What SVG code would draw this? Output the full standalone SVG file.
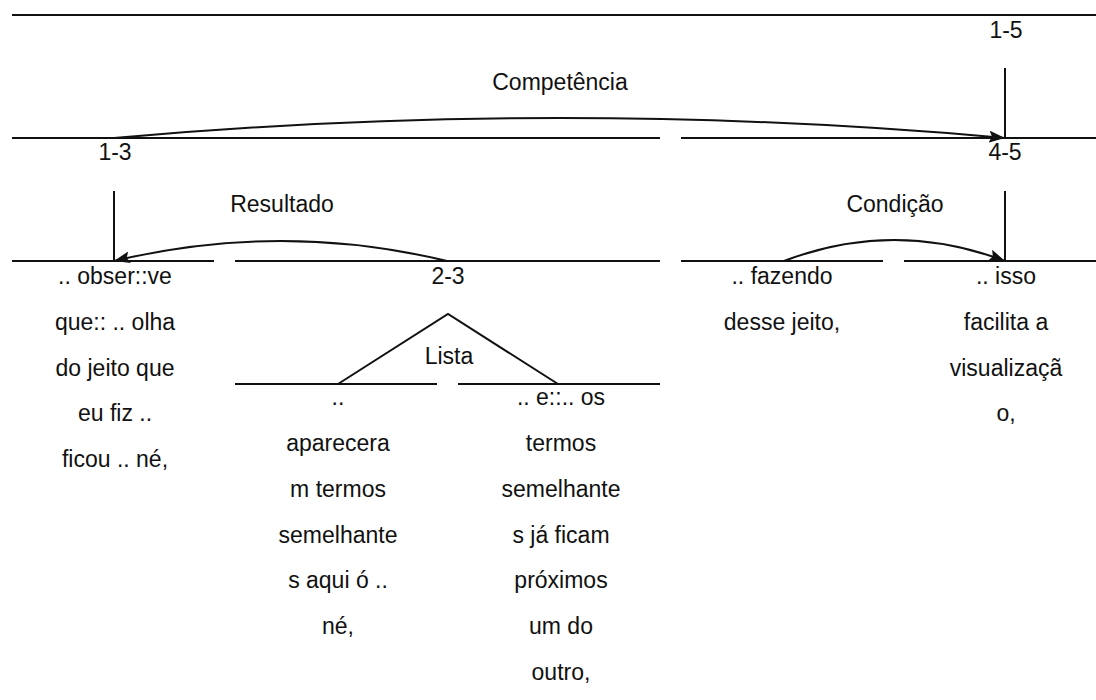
<svg xmlns="http://www.w3.org/2000/svg" width="1096" height="700" viewBox="0 0 1096 700">
<style>
  text { font-family: "Liberation Sans", Arial, sans-serif; font-size: 23px; fill: #111; text-anchor: middle; }
  .ln { stroke: #111; stroke-width: 2; fill: none; }
  .tri { stroke: #111; stroke-width: 2; fill: none; stroke-linejoin: miter; }
  .arc { stroke: #111; stroke-width: 2; fill: none; }
</style>
<defs>
  <marker id="ah" markerUnits="userSpaceOnUse" markerWidth="17" markerHeight="12" refX="16" refY="6" orient="auto">
    <path d="M0,0 L16,6 L0,12 L3,6 z" fill="#111"/>
  </marker>
</defs>
<rect width="1096" height="700" fill="#fff"/>

<g id="level1">
  <line class="ln" x1="12" y1="15" x2="1096" y2="15"/>
  <text x="1006" y="38">1-5</text>
  <line class="ln" x1="1005" y1="68" x2="1005" y2="138"/>
</g>

<g id="level2">
  <line class="ln" x1="12" y1="138" x2="660" y2="138"/>
  <line class="ln" x1="681" y1="138" x2="1096" y2="138"/>
  <text x="115" y="160">1-3</text>
  <text x="1005" y="160">4-5</text>
  <line class="ln" x1="114" y1="191" x2="114" y2="261"/>
  <line class="ln" x1="1005" y1="191" x2="1005" y2="261"/>
</g>

<g id="level3">
  <line class="ln" x1="12" y1="261" x2="214" y2="261"/>
  <line class="ln" x1="235" y1="261" x2="660" y2="261"/>
  <line class="ln" x1="681" y1="261" x2="883" y2="261"/>
  <line class="ln" x1="904" y1="261" x2="1096" y2="261"/>
</g>

<g id="node-observe">
  <text x="115" y="284">.. obser::ve</text>
  <text x="115" y="330">que:: .. olha</text>
  <text x="115" y="376">do jeito que</text>
  <text x="115" y="421">eu fiz ..</text>
  <text x="115" y="467">ficou .. né,</text>
</g>

<g id="node-2-3">
  <text x="448" y="284">2-3</text>
  <polyline class="tri" points="338,384 448,314 558,384"/>
  <text x="449" y="364">Lista</text>
  <line class="ln" x1="235" y1="384" x2="437" y2="384"/>
  <line class="ln" x1="458" y1="384" x2="660" y2="384"/>
</g>

<g id="node-aparecera">
  <text x="338" y="405">..</text>
  <text x="338" y="451">aparecera</text>
  <text x="338" y="497">m termos</text>
  <text x="338" y="543">semelhante</text>
  <text x="338" y="588">s aqui ó ..</text>
  <text x="338" y="634">né,</text>
</g>

<g id="node-termos">
  <text x="561" y="405">.. e::.. os</text>
  <text x="561" y="451">termos</text>
  <text x="561" y="497">semelhante</text>
  <text x="561" y="543">s já ficam</text>
  <text x="561" y="588">próximos</text>
  <text x="561" y="634">um do</text>
  <text x="561" y="680">outro,</text>
</g>

<g id="node-fazendo">
  <text x="782" y="284">.. fazendo</text>
  <text x="782" y="330">desse jeito,</text>
</g>

<g id="node-isso">
  <text x="1006" y="284">.. isso</text>
  <text x="1006" y="330">facilita a</text>
  <text x="1006" y="376">visualizaçã</text>
  <text x="1006" y="421">o,</text>
</g>

<g id="connectors">
  <path class="arc" d="M114,138 Q560,98 1005,138" marker-end="url(#ah)"/>
  <text x="560" y="90">Competência</text>
  <path class="arc" d="M447,261 Q281,221 114,261" marker-end="url(#ah)"/>
  <text x="282" y="212">Resultado</text>
  <path class="arc" d="M784,261 Q894,219 1005,261" marker-end="url(#ah)"/>
  <text x="895" y="212">Condição</text>
</g>
</svg>
